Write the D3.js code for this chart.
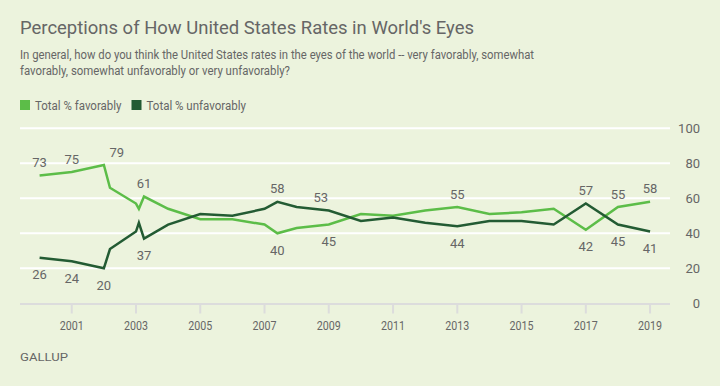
<!DOCTYPE html>
<html lang="en">
<head>
  <meta charset="UTF-8">
  <title>Perceptions of How United States Rates in World's Eyes</title>
  <script src="https://cdn.jsdelivr.net/npm/d3@7"></script>
  <style>
    body { margin: 0; background: #ecf3dd; }
    svg text { font-family: Roboto, "Noto Sans", sans-serif; fill: #666; }
  </style>
</head>
<body>
  <svg id="chart" width="720" height="386"></svg>
  <script>
    // survey dates as decimal years (several readings in 2002, 2003, 2007)
    let years = [2000, 2001, 2002, 2002.19, 2003.0, 2003.09, 2003.25, 2004, 2005, 2006, 2007, 2007.4,
                 2008, 2009, 2010, 2011, 2012, 2013, 2014, 2015, 2016, 2017, 2018, 2019];
    let favorable = [73, 75, 79, 66, 57, 54, 61, 54, 48, 48, 45, 40,
                     43, 45, 51, 50, 53, 55, 51, 52, 54, 42, 55, 58];
    let unfavorable = [26, 24, 20, 31, 41, 46, 37, 45, 51, 50, 54, 58,
                       55, 53, 47, 49, 46, 44, 47, 47, 45, 57, 45, 41];
    let labelIdx = [0, 1, 2, 6, 11, 13, 17, 21, 22, 23];
    let xTicks = [2001, 2003, 2005, 2007, 2009, 2011, 2013, 2015, 2017, 2019];
    let yTicks = [0, 20, 40, 60, 80, 100];
    let seriesNames = ['Total % favorably', 'Total % unfavorably'];
    let colors = ['#5cbd48', '#235b33'];

    let svg = d3.select('#chart');

    let x = d3.scaleLinear().domain([1999.39, 2019.62]).range([20, 670]);
    let y = d3.scaleLinear().domain([0, 100]).range([303.3, 128.3]);

    // titles
    svg.append('text').attr('x', 20).attr('y', 34)
      .attr('font-size', 19).attr('textLength', 454).attr('lengthAdjust', 'spacingAndGlyphs')
      .text("Perceptions of How United States Rates in World's Eyes");
    svg.append('text').attr('x', 20).attr('y', 59)
      .attr('font-size', 12.5).attr('textLength', 514).attr('lengthAdjust', 'spacingAndGlyphs')
      .text('In general, how do you think the United States rates in the eyes of the world -- very favorably, somewhat');
    svg.append('text').attr('x', 20).attr('y', 75)
      .attr('font-size', 12.5).attr('textLength', 270).attr('lengthAdjust', 'spacingAndGlyphs')
      .text('favorably, somewhat unfavorably or very unfavorably?');

    // legend
    let legX = [20, 131.5];
    let legLen = [86.5, 99.5];
    seriesNames.forEach((name, i) => {
      svg.append('rect').attr('x', legX[i]).attr('y', 100).attr('width', 10).attr('height', 10)
        .attr('fill', colors[i]);
      svg.append('text').attr('x', legX[i] + 15).attr('y', 109.5)
        .attr('font-size', 12.5).attr('textLength', legLen[i]).attr('lengthAdjust', 'spacingAndGlyphs')
        .text(name);
    });

    // grid
    svg.selectAll('.grid')
      .data(yTicks.filter(d => d > 0))
      .join('line')
      .attr('class', 'grid')
      .attr('x1', 20).attr('x2', 670)
      .attr('y1', d => y(d)).attr('y2', d => y(d))
      .attr('stroke', '#fff').attr('stroke-width', 2);

    svg.selectAll('.ylab')
      .data(yTicks)
      .join('text')
      .attr('class', 'ylab')
      .attr('x', 700).attr('y', d => y(d) + 4.5)
      .attr('text-anchor', 'end').attr('font-size', 13)
      .text(d => d);

    // x axis
    svg.append('line').attr('x1', 20).attr('x2', 670).attr('y1', 304).attr('y2', 304)
      .attr('stroke', '#dcdcdc').attr('stroke-width', 2);
    svg.selectAll('.xtick')
      .data(xTicks)
      .join('line')
      .attr('class', 'xtick')
      .attr('x1', d => x(d)).attr('x2', d => x(d))
      .attr('y1', 304).attr('y2', 313.5)
      .attr('stroke', '#dcdcdc').attr('stroke-width', 2);
    svg.selectAll('.xlab')
      .data(xTicks)
      .join('text')
      .attr('class', 'xlab')
      .attr('x', d => x(d)).attr('y', 329.5)
      .attr('text-anchor', 'middle').attr('font-size', 12)
      .attr('textLength', 24).attr('lengthAdjust', 'spacingAndGlyphs')
      .text(d => d);

    // lines
    let line = d3.line().x(d => x(d[0])).y(d => y(d[1]));
    [favorable, unfavorable].forEach((vals, s) => {
      svg.append('path')
        .datum(years.map((yr, i) => [yr, vals[i]]))
        .attr('d', line)
        .attr('fill', 'none')
        .attr('stroke', colors[s])
        .attr('stroke-width', 2.5)
        .attr('stroke-linejoin', 'miter');
    });

    // value labels: the higher series gets its label above, the lower one below
    let nudge = { '0-2': 13, '1-13': -8 };
    [favorable, unfavorable].forEach((vals, s) => {
      let other = s === 0 ? unfavorable : favorable;
      svg.selectAll('.lab' + s)
        .data(labelIdx)
        .join('text')
        .attr('class', 'lab' + s)
        .attr('x', i => x(years[i]) + (nudge[s + '-' + i] || 0))
        .attr('y', i => vals[i] >= other[i] ? y(vals[i]) - 8.5 : y(vals[i]) + 21.5)
        .attr('text-anchor', 'middle').attr('font-size', 13)
        .text(i => vals[i]);
    });

    svg.append('text').attr('x', 20).attr('y', 361)
      .attr('font-size', 11).attr('textLength', 48).attr('lengthAdjust', 'spacingAndGlyphs')
      .text('GALLUP');
  </script>
</body>
</html>
